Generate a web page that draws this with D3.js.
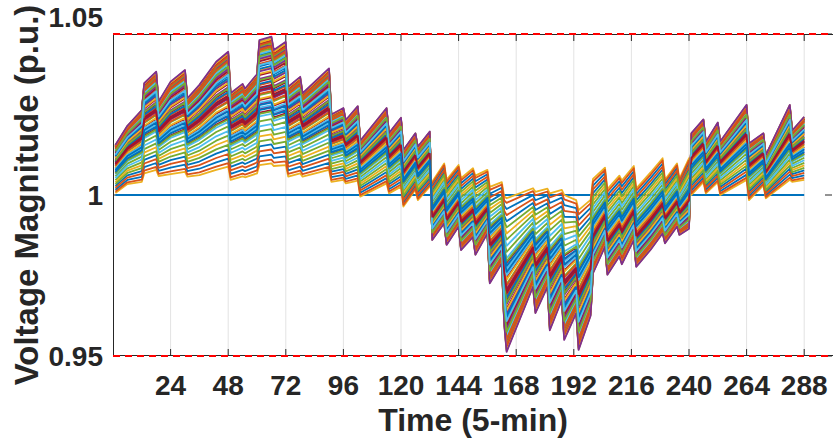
<!DOCTYPE html>
<html>
<head>
<meta charset="utf-8">
<script src="https://cdn.jsdelivr.net/npm/d3@7"></script>
<style>
  html, body { margin: 0; padding: 0; background: #ffffff; }
  svg { display: block; }
  text { font-family: "Liberation Sans", Arial, Helvetica, sans-serif; font-weight: bold; fill: #262626; }
</style>
</head>
<body>
<svg id="chart" width="833" height="441"></svg>
<script>
// ---- Data -------------------------------------------------------------
// Time steps (5-min) at which the feeder voltage profile changes slope.
const knotTimes = [
  1, 6, 12, 13, 18, 19, 24, 30, 31, 36, 43, 48, 49, 54, 55, 60, 61, 66, 67, 72,
  73, 78, 79, 90, 91, 96, 97, 102, 103, 114, 115, 120, 121, 126, 127, 132,
  133, 138, 139, 144, 145, 150, 151, 156, 157, 162, 163, 164, 175, 176, 181, 182,
  187, 188, 193, 194, 199, 200, 205, 206, 211, 212, 217, 218, 224, 229, 230, 235,
  236, 240, 241, 246, 247, 252, 253, 264, 265, 271, 272, 282, 283, 288
];
// Voltage (p.u.) of the bus with the largest swing.
const sensitiveBus = [
  1.0155, 1.0215, 1.0264, 1.0347, 1.0383, 1.0290, 1.0352, 1.0388, 1.0300, 1.0342, 1.0414, 1.0445, 1.0316, 1.0345, 1.0330, 1.0375, 1.0481, 1.0492, 1.0450, 1.0476,
  1.0336, 1.0367, 1.0316, 1.0393, 1.0250, 1.0270, 1.0233, 1.0276, 1.0168, 1.0270, 1.0192, 1.0240, 1.0140, 1.0192, 1.0150, 1.0197,
  0.9860, 0.9912, 0.9845, 0.9902, 0.9829, 0.9870, 0.9814, 0.9881, 0.9726, 0.9788, 0.9600, 0.9513, 0.9715, 0.9633, 0.9715, 0.9580,
  0.9674, 0.9550, 0.9633, 0.9519, 0.9625, 0.9757, 0.9840, 0.9752, 0.9810, 0.9785, 0.9860, 0.9777, 0.9830, 0.9881, 0.9850, 0.9902,
  0.9876, 0.9895, 1.0192, 1.0235, 1.0165, 1.0225, 1.0166, 1.0280, 1.0160, 1.0192, 1.0124, 1.0280, 1.0200, 1.0243
];
// Voltage (p.u.) of the bus with the smallest swing.
const stiffBus = [
  1.0006, 1.0034, 1.0041, 1.0067, 1.0078, 1.0059, 1.0065, 1.0072, 1.0057, 1.0062, 1.0078, 1.0088, 1.0047, 1.0058, 1.0055, 1.0067, 1.0093, 1.0098, 1.0090, 1.0093,
  1.0057, 1.0067, 1.0057, 1.0078, 1.0041, 1.0047, 1.0036, 1.0045, 0.9995, 1.0036, 1.0005, 1.0026, 0.9964, 1.0016, 0.9984, 1.0026,
  1.0041, 1.0098, 1.0047, 1.0093, 1.0052, 1.0083, 1.0060, 1.0078, 1.0025, 1.0040, 0.9995, 0.9990, 1.0021, 1.0010, 1.0020, 1.0005,
  1.0016, 1.0000, 0.9984, 0.9953, 0.9985, 1.0050, 1.0085, 1.0018, 1.0060, 1.0045, 1.0090, 1.0020, 1.0070, 1.0114, 1.0047, 1.0098,
  1.0050, 1.0114, 1.0000, 1.0040, 1.0005, 1.0040, 1.0000, 1.0047, 0.9984, 1.0030, 0.9990, 1.0047, 1.0041, 1.0047
];
// Position of every load bus between the stiff (0) and the sensitive (1) bus,
// listed in plotting order.
const busShare = [
  0.64, 0.00, 0.97, 0.35, 0.86, 0.52, 0.15, 0.93, 0.90, 0.45, 0.27, 0.955, 0.72, 0.07,
  0.81, 0.23, 0.94, 0.56, 0.31, 0.985, 0.61, 0.11, 0.76, 0.49, 0.91, 0.39, 0.67, 0.88,
  0.03, 0.84, 0.59, 0.19, 0.99, 0.42, 0.79, 0.975, 0.53, 0.69, 0.95, 0.46, 0.83, 0.65,
  0.57, 0.98, 0.75, 0.41, 0.89, 0.62, 0.44, 0.92, 0.73, 0.85, 0.68, 0.50, 0.965, 0.77,
  0.96, 0.995, 1.00, 0.87, 0.80, 0.60, 0.48
];
const substationVoltage = 1.0;
const timeRange = [1, 288];
const voltageLimits = [0.95, 1.05];
const xTickValues = [24, 48, 72, 96, 120, 144, 168, 192, 216, 240, 264, 288];
const yTickValues = [0.95, 1, 1.05];
const yTickLabels = ["0.95", "1", "1.05"];
const xAxisTitle = "Time (5-min)";
const yAxisTitle = "Voltage Magnitude (p.u.)";

// MATLAB default line colour order
const lineColors = ["#0072BD", "#D95319", "#EDB120", "#7E2F8E", "#77AC30", "#4DBEEE", "#A2142F"];

// ---- Layout -----------------------------------------------------------
const svg = d3.select("#chart");
const plot = { left: 113, right: 833, top: 34, bottom: 356 };

const x = d3.scaleLinear().domain([0, 300]).range([plot.left, plot.right]);
const y = d3.scaleLinear().domain([0.95, 1.05]).range([plot.bottom, plot.top]);

svg.append("defs").append("clipPath").attr("id", "plotClip")
  .append("rect")
  .attr("x", plot.left).attr("y", plot.top - 2)
  .attr("width", plot.right - plot.left).attr("height", plot.bottom - plot.top + 4);

// vertical grid lines
svg.append("g").selectAll("line").data(xTickValues).join("line")
  .attr("x1", d => x(d)).attr("x2", d => x(d))
  .attr("y1", plot.top).attr("y2", plot.bottom)
  .attr("stroke", "#e3e3e3").attr("stroke-width", 1);

// axes box and ticks
const axisColor = "#262626";
const tickLen = 7;
const axes = svg.append("g").attr("stroke", axisColor).attr("stroke-width", 1).attr("fill", "none");
axes.append("rect")
  .attr("x", plot.left + 0.5).attr("y", plot.top + 0.5)
  .attr("width", plot.right - plot.left).attr("height", plot.bottom - plot.top - 1);
xTickValues.forEach(t => {
  axes.append("line").attr("x1", x(t)).attr("x2", x(t)).attr("y1", plot.bottom).attr("y2", plot.bottom - tickLen);
  axes.append("line").attr("x1", x(t)).attr("x2", x(t)).attr("y1", plot.top).attr("y2", plot.top + tickLen);
});
yTickValues.forEach(v => {
  axes.append("line").attr("x1", plot.left).attr("x2", plot.left + tickLen).attr("y1", y(v)).attr("y2", y(v));
  axes.append("line").attr("x1", plot.right - 1).attr("x2", plot.right - 1 - tickLen).attr("y1", y(v)).attr("y2", y(v));
});

// ---- Series -----------------------------------------------------------
const data = svg.append("g").attr("clip-path", "url(#plotClip)");
const line = d3.line().x(d => x(d.t)).y(d => y(d.v));

// substation bus held at nominal voltage
data.append("path")
  .datum(timeRange.map(t => ({ t, v: substationVoltage })))
  .attr("d", line)
  .attr("fill", "none").attr("stroke", lineColors[0]).attr("stroke-width", 2);

// load buses
const busSeries = busShare.map(share =>
  knotTimes.map((t, k) => ({ t, v: stiffBus[k] + share * (sensitiveBus[k] - stiffBus[k]) }))
);
data.selectAll("path.bus").data(busSeries).join("path")
  .attr("class", "bus")
  .attr("d", line)
  .attr("fill", "none")
  .attr("stroke", (d, i) => lineColors[(i + 1) % lineColors.length])
  .attr("stroke-width", 1.8)
  .attr("stroke-linejoin", "round");

// voltage limits
svg.append("g").selectAll("line").data(voltageLimits).join("line")
  .attr("x1", plot.left).attr("x2", plot.right)
  .attr("y1", d => y(d)).attr("y2", d => y(d))
  .attr("stroke", "#ff0000").attr("stroke-width", 2)
  .attr("stroke-dasharray", "7,5");

// ---- Labels -----------------------------------------------------------
svg.append("g").selectAll("text").data(xTickValues).join("text")
  .attr("x", d => x(d)).attr("y", 395)
  .attr("text-anchor", "middle")
  .style("font-size", "28px")
  .text(d => d);

// the top label sits just above the axis box
const yLabelBaseline = v => (v === 1.05 ? 27 : y(v) + 10);
svg.append("g").selectAll("text").data(yTickValues).join("text")
  .attr("x", 103).attr("y", d => yLabelBaseline(d))
  .attr("text-anchor", "end")
  .style("font-size", "28px")
  .text((d, i) => yTickLabels[i]);

svg.append("text")
  .attr("x", (plot.left + plot.right) / 2).attr("y", 431)
  .attr("text-anchor", "middle")
  .style("font-size", "32px")
  .text(xAxisTitle);

svg.append("text")
  .attr("transform", `translate(38, ${(plot.top + plot.bottom) / 2}) rotate(-90)`)
  .attr("text-anchor", "middle")
  .style("font-size", "33px")
  .text(yAxisTitle);
</script>
</body>
</html>
